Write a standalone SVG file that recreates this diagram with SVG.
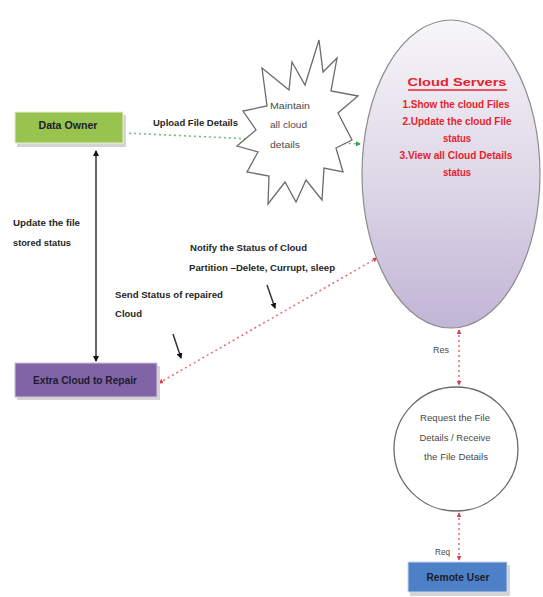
<svg xmlns="http://www.w3.org/2000/svg" width="543" height="597" viewBox="0 0 543 597">
<style>
.lbl{font-family:"Liberation Sans",Arial,sans-serif;font-weight:bold;font-size:9px;fill:#262626}
.nodetxt{font-family:"Liberation Sans",Arial,sans-serif;font-weight:bold;font-size:10px;fill:#1c1c2e;text-anchor:middle}
.thin{font-family:"Liberation Sans",Arial,sans-serif;font-size:9.5px;fill:#4a4a4a}
.red{font-family:"Liberation Sans",Arial,sans-serif;font-weight:bold;font-size:11px;fill:#e8212c;text-anchor:middle}
.shadow{fill:#d4d4d4}
.gd{stroke:#6fbf73;stroke-width:1.6;stroke-dasharray:2 3;fill:none}
.rd{stroke:#e57373;stroke-width:1.6;stroke-dasharray:2 3;fill:none}
.bk{stroke:#333;stroke-width:1.5;fill:none}
</style>
<defs>
<linearGradient id="cg" x1="0" y1="0" x2="0" y2="1">
<stop offset="0" stop-color="#f7f6f9"/>
<stop offset="0.55" stop-color="#dcd5e6"/>
<stop offset="1" stop-color="#c2b5d6"/>
</linearGradient>
<marker id="mb" viewBox="0 0 6 6" refX="5" refY="3" markerWidth="6" markerHeight="6" markerUnits="userSpaceOnUse" orient="auto-start-reverse"><path d="M0,0 L6,3 L0,6 z" fill="#111"/></marker>
<marker id="mr" viewBox="0 0 6 6" refX="5" refY="3" markerWidth="5" markerHeight="5" markerUnits="userSpaceOnUse" orient="auto-start-reverse"><path d="M0,0 L6,3 L0,6 z" fill="#d9414f"/></marker>
<marker id="mg" viewBox="0 0 6 6" refX="5" refY="3" markerWidth="5" markerHeight="5" markerUnits="userSpaceOnUse" orient="auto-start-reverse"><path d="M0,0 L6,3 L0,6 z" fill="#3a9a45"/></marker>
</defs>
<rect width="543" height="597" fill="#ffffff"/>

<g id="connectors">
<line class="gd" x1="124" y1="133" x2="360" y2="144" marker-end="url(#mg)"/>
<line class="bk" x1="96" y1="151" x2="96" y2="361" marker-start="url(#mb)" marker-end="url(#mb)"/>
<line class="rd" x1="159" y1="383" x2="377" y2="258" marker-start="url(#mr)" marker-end="url(#mr)"/>
<line class="rd" x1="459" y1="330" x2="459" y2="385" marker-start="url(#mr)" marker-end="url(#mr)"/>
<line class="rd" x1="459" y1="513" x2="459" y2="560" marker-start="url(#mr)" marker-end="url(#mr)"/>
<line class="bk" x1="267" y1="285" x2="275" y2="308" marker-end="url(#mb)"/>
<line class="bk" x1="173" y1="334" x2="181" y2="358" marker-end="url(#mb)"/>
<text class="lbl" x="153" y="126" textLength="85" lengthAdjust="spacingAndGlyphs">Upload  File Details</text>
<text class="lbl" x="13" y="226" textLength="67" lengthAdjust="spacingAndGlyphs">Update the file</text>
<text class="lbl" x="13" y="246" textLength="58" lengthAdjust="spacingAndGlyphs">stored status</text>
<text class="lbl" x="115" y="298" textLength="108" lengthAdjust="spacingAndGlyphs">Send Status  of repaired</text>
<text class="lbl" x="115" y="317" textLength="27" lengthAdjust="spacingAndGlyphs">Cloud</text>
<text class="lbl" x="190" y="251" textLength="117" lengthAdjust="spacingAndGlyphs">Notify the Status of Cloud</text>
<text class="lbl" x="189" y="271" textLength="146" lengthAdjust="spacingAndGlyphs">Partition –Delete, Currupt, sleep</text>
<text class="thin" x="433" y="353" textLength="16" lengthAdjust="spacingAndGlyphs">Res</text>
<text class="thin" x="435" y="555" textLength="15" lengthAdjust="spacingAndGlyphs">Req</text>
</g>

<g id="star">
<polygon points="319,40 323,72 337,58 331,91 358,96 338,113 352,140 336,148 343,172 324,168 322,200 306,180 296,202 285,182 268,204 269,176 247,172 258,152 237,146 256,130 243,111 267,106 262,68 289,90 292,62 305,85" fill="#ffffff" stroke="#6b6b6b" stroke-width="1.3" stroke-linejoin="miter"/>
<text class="thin" x="270" y="109" textLength="40" lengthAdjust="spacingAndGlyphs">Maintain</text>
<text class="thin" x="270" y="128" textLength="37" lengthAdjust="spacingAndGlyphs">all cloud</text>
<text class="thin" x="270" y="148" textLength="30" lengthAdjust="spacingAndGlyphs">details</text>
</g>

<g id="data-owner">
<rect class="shadow" x="17" y="115" width="109" height="32"/>
<rect x="15" y="112" width="108" height="31" fill="#98c34f" stroke="#e7f0cf" stroke-width="1"/>
<text class="nodetxt" x="68" y="129" textLength="59" lengthAdjust="spacingAndGlyphs">Data Owner</text>
</g>

<g id="extra-cloud">
<rect class="shadow" x="17" y="366" width="143" height="34"/>
<rect x="15" y="363" width="142" height="34" fill="#8164a6" stroke="#cfc3e0" stroke-width="1"/>
<text class="nodetxt" x="85" y="384" textLength="104" lengthAdjust="spacingAndGlyphs">Extra Cloud to Repair</text>
</g>

<g id="cloud-servers">
<ellipse cx="451" cy="174" rx="89" ry="154" fill="url(#cg)" stroke="#8c8c8c" stroke-width="1.2"/>
<text class="red" x="457" y="86" font-size="15" textLength="99" lengthAdjust="spacingAndGlyphs">Cloud Servers</text>
<line x1="408" y1="90" x2="507" y2="90" stroke="#e8212c" stroke-width="1.3"/>
<text class="red" x="456" y="108" textLength="107" lengthAdjust="spacingAndGlyphs">1.Show the cloud Files</text>
<text class="red" x="457" y="125" textLength="109" lengthAdjust="spacingAndGlyphs">2.Update the cloud File</text>
<text class="red" x="457" y="142" textLength="28" lengthAdjust="spacingAndGlyphs">status</text>
<text class="red" x="456" y="159" textLength="113" lengthAdjust="spacingAndGlyphs">3.View all Cloud Details</text>
<text class="red" x="457" y="176" textLength="28" lengthAdjust="spacingAndGlyphs">status</text>
</g>

<g id="request-circle">
<circle cx="456" cy="449" r="62" fill="#ffffff" stroke="#6b6b6b" stroke-width="1.3"/>
<text class="thin" x="455" y="421" text-anchor="middle" textLength="70" lengthAdjust="spacingAndGlyphs">Request the File</text>
<text class="thin" x="455" y="441" text-anchor="middle" textLength="71" lengthAdjust="spacingAndGlyphs">Details / Receive</text>
<text class="thin" x="456" y="460" text-anchor="middle" textLength="64" lengthAdjust="spacingAndGlyphs">the File Details</text>
</g>

<g id="remote-user">
<rect class="shadow" x="410" y="565" width="100" height="31"/>
<rect x="408" y="562" width="99" height="30" fill="#4d80c6" stroke="#c9d8ee" stroke-width="1"/>
<text class="nodetxt" x="458" y="581" textLength="63" lengthAdjust="spacingAndGlyphs">Remote User</text>
</g>
</svg>
